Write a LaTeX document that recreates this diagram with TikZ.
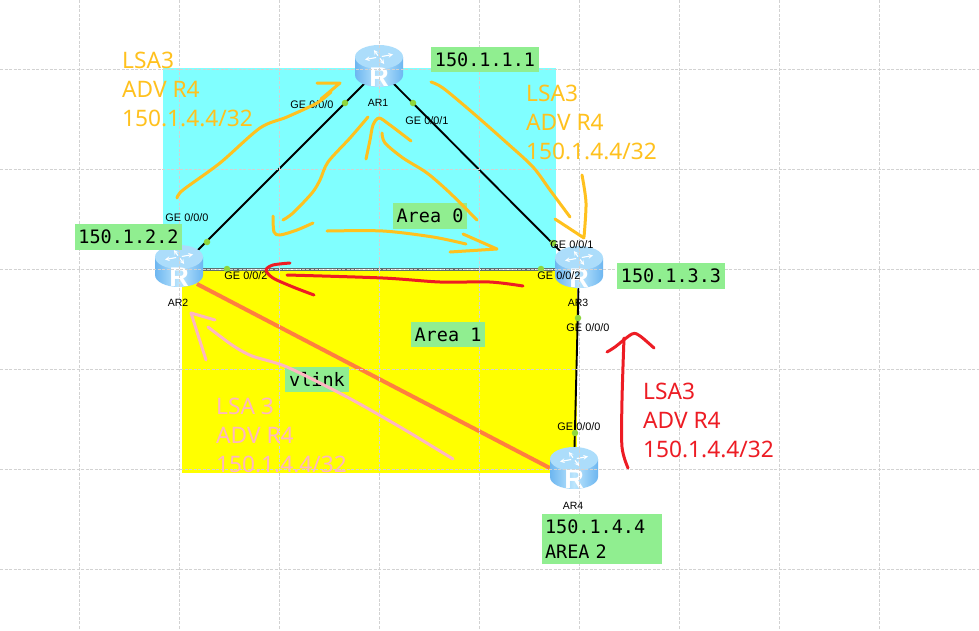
\documentclass[tikz,border=0pt]{standalone}
\usepackage{fontspec}
\setmainfont{Liberation Sans}
\newfontfamily\monofam{DejaVu Sans Mono}
\newfontfamily\notefam{Noto Sans}
\usetikzlibrary{arrows,positioning}
\definecolor{boxgreen}{HTML}{90EE90}
\definecolor{areacyan}{HTML}{80FFFF}
\definecolor{areayellow}{HTML}{FFFF00}
\definecolor{amber}{HTML}{FFC11E}
\definecolor{inkred}{HTML}{ED1C24}
\definecolor{inkpink}{HTML}{FFB6C1}
\definecolor{vlinkorange}{HTML}{FF7F3F}
\definecolor{portgreen}{HTML}{8FD63C}
\definecolor{gridgray}{HTML}{D2D2D2}
\definecolor{trunkgray}{HTML}{5F6F6F}
\definecolor{routerlight}{HTML}{BDE6FD}
\definecolor{routermid}{HTML}{8CCBF6}
\definecolor{routerdark}{HTML}{6DB6F0}
\tikzset{
	ipbox/.style={fill=boxgreen, inner sep=0pt, font=\monofam\fontsize{18.5}{25}\selectfont},
	routerbox/.style={minimum width=48pt, minimum height=42pt, inner sep=0pt},
	portdot/.style={circle, fill=portgreen, minimum size=6.5pt, inner sep=0pt},
	porttext/.style={inner sep=0pt, font=\fontsize{10.9}{12}\selectfont},
	routername/.style={inner sep=0pt, font=\fontsize{10.5}{12}\selectfont},
	linktrunk/.style={draw=black, line width=1.9pt},
	notetext/.style={anchor=west, align=left, inner sep=0pt, font=\notefam\fontsize{22.7}{29}\selectfont},
	amberstroke/.style={draw=amber, line width=3pt, line cap=round, line join=round},
	redstroke/.style={draw=inkred, line width=3pt, line cap=round, line join=round},
	pinkstroke/.style={draw=inkpink, line width=3pt, line cap=round, line join=round},
	routericon/.pic={
		\shade[left color=routerdark, right color=routerdark, middle color=routerlight]
			(-24,-9) -- (-24,9) arc[start angle=180, end angle=360, x radius=24pt, y radius=12pt] -- (24,-9) -- cycle;
		\fill[routermid!35!routerlight] (0,-9) ellipse [x radius=24pt, y radius=12pt];
		\begin{scope}[shift={(0,-9)}, yscale=.5]
			\foreach \ang in {0,90,180,270} {
				\draw[white, line width=1.1pt, ->, >=stealth, rotate=\ang+20] (3,0)--(15,0);
			}
		\end{scope}
		\node[text=white, inner sep=0pt, font=\bfseries\fontsize{27}{27}\selectfont] at (0,11) {R};
	},
}
\begin{document}
\begin{tikzpicture}[x=1pt, y=-1pt]
	\useasboundingbox (0,0) rectangle (979,630);
	\fill[white] (0,0) rectangle (979,630);
	% areas
	\fill[areacyan] (163,68) rectangle (556,268);
	\fill[areayellow] (182,269) rectangle (577,473);
	% routers
	\node[routerbox] (ar1) at (379,66) {};
	\node[routerbox] (ar2) at (179,266) {};
	\node[routerbox] (ar3) at (579,267) {};
	\node[routerbox] (ar4) at (574,468) {};
	% links
	\draw[linktrunk] ([yshift=-3pt]ar1.center)--([yshift=-3pt]ar2.center);
	\draw[linktrunk] ([yshift=-3pt]ar1.center)--([yshift=-3pt]ar3.center);
	\draw[linktrunk] (ar3.center)--(ar4.center);
	\draw[draw=trunkgray, line width=3pt, postaction={draw=white, line width=.9pt, dash pattern=on 2pt off 2pt}] ([yshift=-3pt]ar2.center)--([yshift=-2pt]ar3.center);
	\draw[draw=vlinkorange, line width=4pt, shorten <=-7pt] (ar2.south east)--(ar4.west);
	\foreach \nm in {ar1,ar2,ar3,ar4} {
		\pic at (\nm) {routericon};
	}
	% grid
	\foreach \gx in {79.5,179.5,279.5,379.5,479.5,579.5,679.5,779.5,879.5} {
		\draw[gridgray, line width=.8pt, dash pattern=on 3pt off 1.5pt] (\gx,0)--(\gx,630);
	}
	\foreach \gy in {69,169,269,369,469,569} {
		\draw[gridgray, line width=.8pt, dash pattern=on 3pt off 1.5pt] (0,\gy)--(979,\gy);
	}
	% ports
	\node[portdot] (p1a) at (345,103) {};
	\node[portdot] (p1b) at (413,103) {};
	\node[portdot] (p2a) at (207,242) {};
	\node[portdot] (p2b) at (227,269) {};
	\node[portdot] (p3a) at (553,243) {};
	\node[portdot] (p3b) at (541,269) {};
	\node[portdot] (p3c) at (578,318) {};
	\node[portdot] (p4a) at (575,433) {};
	\node[porttext] (t1a) at (312,105) {GE 0/0/0};
	\node[porttext] (t1b) at (427,121) {GE 0/0/1};
	\node[porttext] (t2a) at (187,218) {GE 0/0/0};
	\node[porttext] (t2b) at (246,276) {GE 0/0/2};
	\node[porttext] (t3a) at (572,245) {GE 0/0/1};
	\node[porttext] (t3b) at (559,276) {GE 0/0/2};
	\node[porttext] (t3c) at (588,328) {GE 0/0/0};
	\node[porttext] (t4a) at (579,427) {GE 0/0/0};
	\node[routername] (n1) at (378,103) {AR1};
	\node[routername] (n2) at (178,303) {AR2};
	\node[routername] (n3) at (578,303) {AR3};
	\node[routername] (n4) at (573,506) {AR4};
	% address boxes
	\node[ipbox, minimum width=108pt, minimum height=25pt] (ip1) at (485,59.5) {150.1.1.1};
	\node[ipbox, minimum width=107pt, minimum height=26pt] (ip2) at (128.5,237) {150.1.2.2};
	\node[ipbox, minimum width=108pt, minimum height=26pt] (ip3) at (671,276) {150.1.3.3};
	\node[ipbox, minimum width=120pt, minimum height=50pt, align=left, text width=114pt] (ip4) at (602,539) {150.1.4.4\\AREA 2};
	\node[ipbox, minimum width=74pt, minimum height=26pt] (area0) at (430,216) {Area 0};
	\node[ipbox, minimum width=74pt, minimum height=25pt] (area1) at (448,334.5) {Area 1};
	\node[ipbox, minimum width=64pt, minimum height=25pt] (vlink) at (317,379.5) {vlink};
	% LSA notes
	\node[notetext, text=amber] (lsa1) at (122,89) {LSA3\\ADV R4\\150.1.4.4/32};
	\node[notetext, text=amber] (lsa2) at (526,122) {LSA3\\ADV R4\\150.1.4.4/32};
	\node[notetext, text=inkpink] (lsa3) at (216,435) {LSA 3\\ADV R4\\150.1.4.4/32};
	\node[notetext, text=inkred] (lsa4) at (643,420) {LSA3\\ADV R4\\150.1.4.4/32};
	% hand strokes
	\draw[amberstroke] plot[smooth] coordinates {(177,198) (183,190) (220,163) (260,128) (287,117) (317,103) (331,92)};
	\draw[amberstroke] (317,83)--(340,83)--(321,99);
	\draw[amberstroke] plot[smooth] coordinates {(368,117) (350,138) (328,162) (320,180) (312,193) (293,213) (283,220)};
	\draw[amberstroke] plot[smooth] coordinates {(273,216) (274,232) (280,235) (297,230) (313,223)};
	\draw[amberstroke] plot[smooth] coordinates {(366,159) (370,140) (373,125) (379,118) (390,125) (411,141)};
	\draw[amberstroke] plot[smooth] coordinates {(382,133) (385,143) (403,158) (427,173) (450,193) (477,220)};
	\draw[amberstroke] plot[smooth] coordinates {(327,231) (383,231) (433,237) (466,244)};
	\draw[amberstroke] (463,234)--(497,249)--(450,252);
	\draw[amberstroke] plot[smooth] coordinates {(431,82) (443,88) (473,113) (507,143) (533,167) (550,190) (570,217)};
	\draw[amberstroke] plot[smooth] coordinates {(582,175) (586,203) (584,237)};
	\draw[amberstroke] (555,219)--(584,238);
	\draw[redstroke] plot[smooth] coordinates {(287,275) (383,278) (440,282) (490,282) (523,286)};
	\draw[redstroke] plot[smooth] coordinates {(290,263) (273,265) (266,270) (273,278) (293,287) (314,295)};
	\draw[redstroke] plot[smooth] coordinates {(628,468) (622,447) (622,400) (624,338)};
	\draw[redstroke] plot[smooth] coordinates {(607,352) (615,347) (632,334) (640,336) (654,348)};
	\draw[pinkstroke] plot[smooth] coordinates {(208,327) (232,345) (252,356) (287,367) (347,397) (400,427) (453,459)};
	\draw[pinkstroke] (206,360)--(191,313)--(215,320);
\end{tikzpicture}
\end{document}
